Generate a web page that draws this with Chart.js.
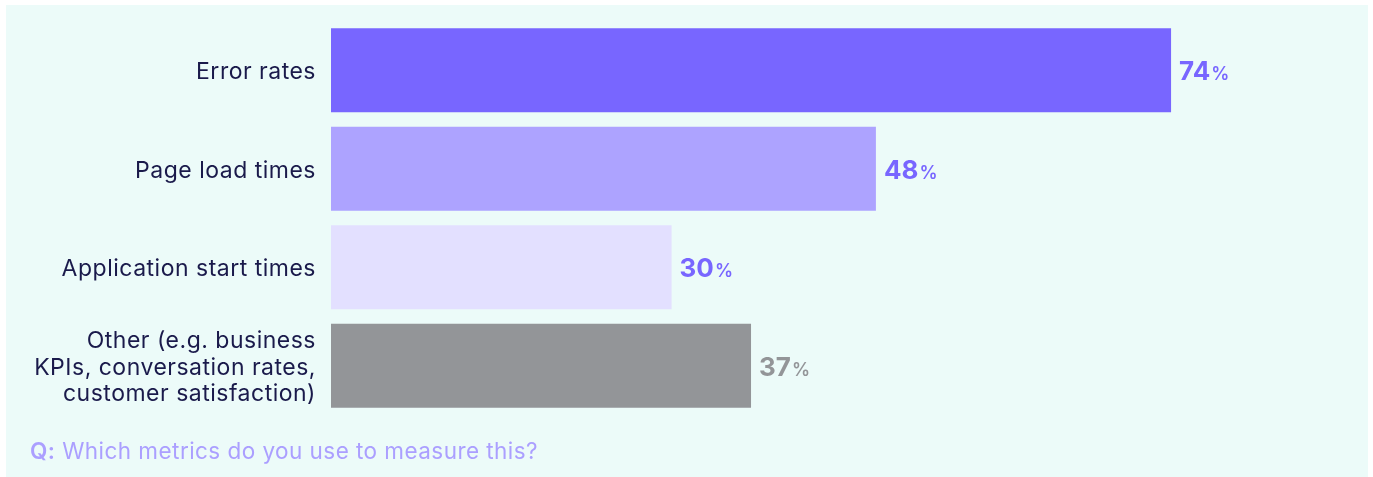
<!DOCTYPE html>
<html>
<head>
<meta charset="utf-8">
<script src="https://cdn.jsdelivr.net/npm/chart.js@4.4.1/dist/chart.umd.min.js"></script>
<style>
  html, body { margin: 0; padding: 0; background: #ffffff; }
  #wrap { position: relative; width: 1373px; height: 477px; }
  #panel { position: absolute; left: 6px; top: 5px; width: 1362px; height: 472px; background: #ecfbf9; }
  #chart { position: absolute; left: 0; top: 0; }
  #question { position: absolute; left: 30px; top: 437px; font-family: Inter, "Noto Sans", sans-serif;
              font-size: 22.5px; letter-spacing: 0.45px; color: #ab9fff; white-space: nowrap; }
  #question b { font-weight: 600; }
</style>
</head>
<body>
<div id="wrap">
  <div id="panel"></div>
  <canvas id="chart" width="1373" height="477"></canvas>
  <div id="question"><b>Q:</b> Which metrics do you use to measure this?</div>
</div>
<script>
// Survey answers: share of respondents using each metric
const categories = [
  "Error rates",
  "Page load times",
  "Application start times",
  ["Other (e.g. business", "KPIs, conversation rates,", "customer satisfaction)"]
];
const values = [74, 48, 30, 37];
const barColors = ["#7866ff", "#ada3ff", "#e3e0ff", "#939598"];
const labelColors = ["#7866ff", "#7866ff", "#7866ff", "#939598"];

const FONT = 'Inter, "Noto Sans", sans-serif';

// Slightly wider tracking for the category labels
const tracking = {
  id: "tracking",
  beforeDraw(chart) { chart.ctx.letterSpacing = "0.5px"; }
};

// Writes "NN%" after each bar end, the percent sign in a smaller size
const valueLabels = {
  id: "valueLabels",
  afterDatasetsDraw(chart) {
    const ctx = chart.ctx;
    const meta = chart.getDatasetMeta(0);
    ctx.save();
    ctx.letterSpacing = "0px";
    ctx.textBaseline = "alphabetic";
    meta.data.forEach((bar, i) => {
      const num = String(values[i]);
      let x = bar.x + 8;
      const y = bar.y + 10;
      ctx.fillStyle = labelColors[i];
      ctx.font = "700 26px " + FONT;
      ctx.fillText(num, x, y);
      x += ctx.measureText(num).width + 1;
      ctx.font = "600 18px " + FONT;
      ctx.fillText("%", x, y);
    });
    ctx.restore();
  }
};

new Chart(document.getElementById("chart"), {
  type: "bar",
  data: {
    labels: categories,
    datasets: [{
      data: values,
      backgroundColor: barColors,
      borderWidth: 0,
      barPercentage: 1,
      categoryPercentage: 0.855
    }]
  },
  options: {
    indexAxis: "y",
    responsive: false,
    animation: false,
    layout: { padding: { left: 0, right: 43, top: 21, bottom: 62 } },
    plugins: { legend: { display: false }, tooltip: { enabled: false } },
    scales: {
      x: { display: false, min: 0, max: 88 },
      y: {
        grid: { display: false, drawTicks: false },
        border: { display: false },
        ticks: {
          color: "#1a1a4b",
          padding: 15,
          labelOffset: 2,
          font: { family: FONT, size: 23, lineHeight: 1.15 }
        },
        afterFit(scale) {
          scale.width = 331;
          scale.paddingTop = 0;
          scale.paddingBottom = 0;
        }
      }
    }
  },
  plugins: [tracking, valueLabels]
});
</script>
</body>
</html>
